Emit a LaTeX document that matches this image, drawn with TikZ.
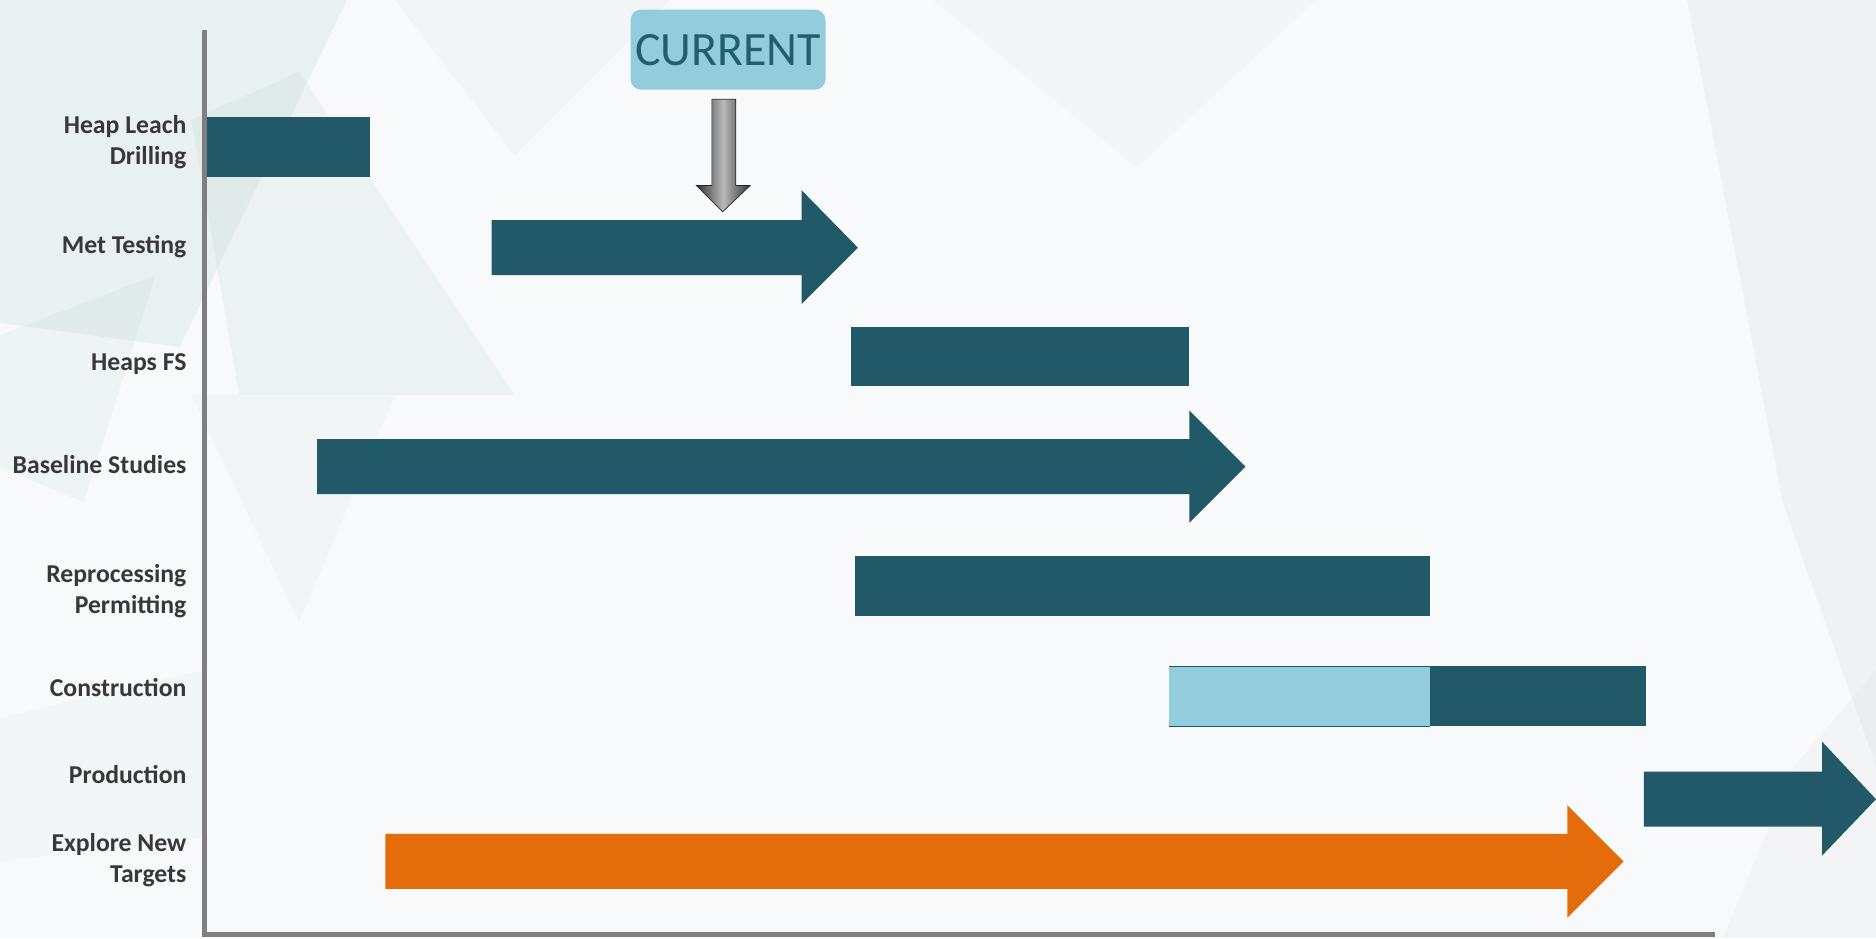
\documentclass[tikz,border=0pt]{standalone}
\usepackage{fontspec}
\setmainfont{Carlito}
\definecolor{dteal}{HTML}{215968}
\definecolor{lblue}{HTML}{93CDDD}
\definecolor{orng}{HTML}{E46C0A}
\definecolor{axisgray}{HTML}{7F7F7F}
\definecolor{lbl}{HTML}{383838}
\definecolor{curtext}{HTML}{225E6E}
\definecolor{bgcol}{HTML}{F7F9FA}
\definecolor{facet}{HTML}{8DB8B2}
\definecolor{facetg}{HTML}{9AA6AE}
\begin{document}
\begin{tikzpicture}[x=1pt,y=-1pt,
  bar/.style={fill=dteal},
  obar/.style={fill=orng},
  lab/.style={anchor=east, font=\fontsize{21.5}{26}\selectfont\bfseries, text=lbl, align=right, inner sep=0pt},
  fct/.style={fill=facet, fill opacity=#1},
  fctg/.style={fill=facetg, fill opacity=#1}]
\useasboundingbox (0,0) rectangle (1568,784);
\fill[bgcol] (0,0) rectangle (1568,784);
% background facets
\fill[fct=0.13] (0,0) -- (290,0) -- (150,290) -- (0,270) -- cycle;
\fill[fct=0.10] (250,60) -- (430,330) -- (200,330) -- (160,100) -- cycle;
\fill[fct=0.08] (0,280) -- (130,230) -- (70,420) -- (0,390) -- cycle;
\fill[fct=0.05] (330,0) -- (560,0) -- (430,130) -- cycle;
\fill[fct=0.05] (160,330) -- (330,330) -- (250,520) -- cycle;
\fill[fct=0.04] (0,600) -- (170,560) -- (170,700) -- (0,720) -- cycle;
\fill[fct=0.04] (780,0) -- (1100,0) -- (950,140) -- cycle;
\fill[fctg=0.08] (1410,0) -- (1568,0) -- (1568,640) -- (1490,420) -- cycle;
\fill[fctg=0.05] (1500,640) -- (1568,560) -- (1568,784) -- (1440,784) -- cycle;
% axes
\draw[axisgray, line width=4pt] (171,25) -- (171,781) -- (1433,781);
% labels
\node[lab] (l1) at (156,119) {Heap Leach\\Drilling};
\node[lab] (l2) at (156,206) {Met Testing};
\node[lab] (l3) at (156,304) {Heaps FS};
\node[lab] (l4) at (156,388) {Baseline Studies};
\node[lab] (l5) at (156,494) {Reprocessing\\Permitting};
\node[lab] (l6) at (156,575) {Construction};
\node[lab] (l7) at (156,647) {Production};
\node[lab] (l8) at (156,719) {Explore New\\Targets};
% bars
\fill[bar] (173,98) rectangle (309,148);
\fill[bar] (411,184) -- (670,184) -- (670,159) -- (717,207) -- (670,254) -- (670,230) -- (411,230) -- cycle;
\fill[bar] (711,273) rectangle (994,323);
\fill[bar] (265,367) -- (994,367) -- (994,343) -- (1041,390) -- (994,437) -- (994,413) -- (265,413) -- cycle;
\fill[bar] (715,465) rectangle (1195,515);
\fill[lblue] (977,557) rectangle (1195,607);
\draw[dteal, line width=0.8pt] (977,557) -- (1195,557) (977,607) -- (1195,607);
\fill[bar] (1195,557) rectangle (1376,607);
\fill[bar] (1374,645) -- (1523,645) -- (1523,620) -- (1568,668) -- (1523,715) -- (1523,691) -- (1374,691) -- cycle;
\fill[obar] (322,697) -- (1310,697) -- (1310,673) -- (1357,720) -- (1310,767) -- (1310,743) -- (322,743) -- cycle;
% current marker
\node[fill=lblue, rounded corners=9pt, minimum width=163pt, minimum height=67pt, inner sep=0pt,
  font=\fontsize{40}{48}\selectfont, text=curtext] (cur) at (608.5,41.5) {CURRENT};
\shade[left color=gray!40!black, right color=gray!40!black, middle color=gray!55, draw=gray!30!black, line width=0.6pt]
  (595,83) -- (615,83) -- (615,155) -- (627,155) -- (604,177) -- (582,155) -- (595,155) -- cycle;
\end{tikzpicture}
\end{document}
